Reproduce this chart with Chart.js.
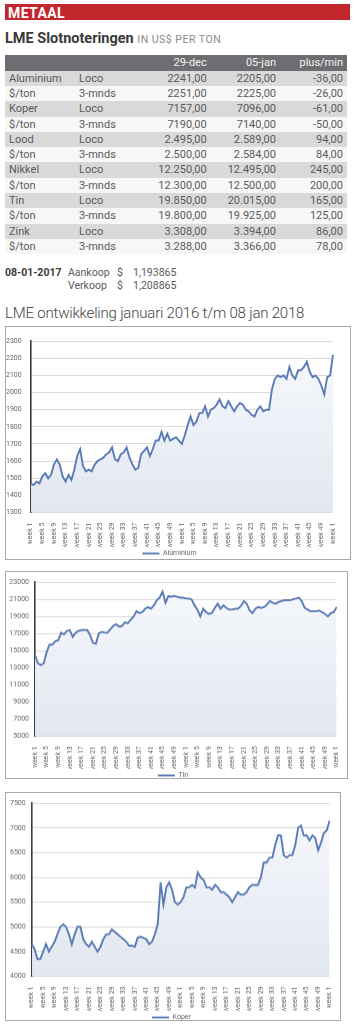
<!DOCTYPE html>
<html><head><meta charset="utf-8">
<script src="https://cdn.jsdelivr.net/npm/chart.js@4.4.0/dist/chart.umd.min.js"></script>
<style>
html,body{margin:0;padding:0;background:#fff;}
body{width:354px;height:1024px;position:relative;overflow:hidden;font-family:Roboto,"Noto Sans",sans-serif;color:#5a5a5a;}
.abs{position:absolute;white-space:nowrap;}
#bar{left:5px;top:3.5px;width:345px;height:16px;background:#c1272d;}
#bar span{position:absolute;left:3px;top:2px;font-size:14px;line-height:14px;font-weight:700;color:#fff;letter-spacing:0.4px;}
#tbl{left:5px;top:55.4px;width:342px;}
.row{position:relative;height:15.3px;line-height:15.3px;font-size:11px;}
.row div{position:absolute;top:0;}
.hdr{background:#6d6e71;color:#f2f2f2;}
.sh{background:#d9d9da;}
.wh{background:#f7f7f7;}
.box{position:absolute;border:1.5px solid #a9a9a9;background:#fff;box-sizing:border-box;}
canvas{position:absolute;}
</style></head>
<body>
<div id="bar" class="abs"><span>METAAL</span></div>
<div class="abs" style="left:5px;top:32.1px;font-size:14.5px;line-height:14.5px;font-weight:700;color:#3a3a3a;">LME Slotnoteringen <span style="font-size:10.5px;font-weight:400;color:#8a8a8a;letter-spacing:0.5px;">IN US$ PER TON</span></div>
<div id="tbl" class="abs"></div>
<div class="abs" style="left:5px;top:267.9px;font-size:10.5px;line-height:10.5px;"><b style="color:#3a3a3a;">08-01-2017</b></div>
<div class="abs" style="left:68px;top:267.9px;font-size:10.5px;line-height:10.5px;">Aankoop</div>
<div class="abs" style="left:117px;top:267.9px;font-size:10.5px;line-height:10.5px;">$</div>
<div class="abs" style="left:133px;top:267.9px;font-size:10.5px;line-height:10.5px;">1,193865</div>
<div class="abs" style="left:68px;top:281.2px;font-size:10.5px;line-height:10.5px;">Verkoop</div>
<div class="abs" style="left:117px;top:281.2px;font-size:10.5px;line-height:10.5px;">$</div>
<div class="abs" style="left:133px;top:281.2px;font-size:10.5px;line-height:10.5px;">1,208865</div>
<div class="abs" style="left:5px;top:305.7px;font-size:15px;line-height:15px;font-weight:300;color:#444;letter-spacing:-0.2px;">LME ontwikkeling januari 2016 t/m 08 jan 2018</div>

<div class="box" style="left:5px;top:326px;width:346px;height:234px;"></div>
<div class="box" style="left:5px;top:571px;width:343px;height:208px;"></div>
<div class="box" style="left:5px;top:791.5px;width:336px;height:229px;"></div>
<canvas id="c1"></canvas>
<canvas id="c2"></canvas>
<canvas id="c3"></canvas>

<script>
// ---- table data ----
const tblHeader = ["", "", "29-dec", "05-jan", "plus/min"];
const tblNames = ["Aluminium","$/ton","Koper","$/ton","Lood","$/ton","Nikkel","$/ton","Tin","$/ton","Zink","$/ton"];
const tblTypes = ["Loco","3-mnds","Loco","3-mnds","Loco","3-mnds","Loco","3-mnds","Loco","3-mnds","Loco","3-mnds"];
const tbl29dec = ["2241,00","2251,00","7157,00","7190,00","2.495,00","2.500,00","12.250,00","12.300,00","19.850,00","19.800,00","3.308,00","3.288,00"];
const tbl05jan = ["2205,00","2225,00","7096,00","7140,00","2.589,00","2.584,00","12.495,00","12.500,00","20.015,00","19.925,00","3.394,00","3.366,00"];
const tblPlusMin = ["-36,00","-26,00","-61,00","-50,00","94,00","84,00","245,00","200,00","165,00","125,00","86,00","78,00"];

// ---- chart data (weekly, week 1 2016 .. week 1 2018) ----
const categories = [];
for (let w = 1; w <= 52; w++) categories.push("week " + w);
for (let w = 1; w <= 52; w++) categories.push("week " + w);
categories.push("week 1");

const aluminium = [1470,1460,1480,1470,1510,1530,1500,1520,1580,1610,
 1580,1510,1480,1520,1490,1550,1630,1670,1570,1540,
 1550,1540,1580,1600,1610,1620,1640,1650,1680,1610,
 1600,1640,1650,1680,1620,1580,1550,1560,1640,1660,
 1680,1630,1670,1720,1720,1770,1720,1760,1720,1730,
 1740,1720,1700,1750,1810,1860,1810,1830,1880,1880,
 1920,1860,1900,1910,1930,1960,1920,1910,1950,1920,
 1890,1920,1940,1930,1900,1890,1870,1860,1900,1920,
 1890,1900,1900,2020,2080,2100,2090,2100,2080,2150,
 2100,2080,2130,2130,2150,2180,2120,2090,2100,2080,
 2040,1990,2090,2100,2220];
const tin = [14500,13500,13300,13500,14800,15700,15700,16100,16200,17100,
 16900,17300,17400,16600,17100,17300,17400,17400,17400,16800,
 15900,15800,17000,17200,17100,17100,17500,17900,18100,17800,
 17900,18300,18200,18600,19000,19600,19400,19500,19900,20100,
 19900,20300,20900,21200,21900,20600,21400,21300,21400,21300,
 21200,21200,21100,21100,21000,20300,19800,19000,19900,19500,
 19300,19400,20000,20500,19900,20300,20000,19800,19800,19900,
 19900,20200,20800,20500,19700,19400,19900,20100,20000,20100,
 20400,20800,20600,20500,20700,20800,20900,20900,20900,21000,
 21100,21200,20800,20000,19800,19600,19600,19600,19700,19500,
 19300,19000,19400,19500,20100];
const koper = [4650,4550,4350,4350,4500,4650,4500,4600,4700,4850,
 5000,5050,5000,4850,4650,4850,5000,5000,4750,4650,
 4600,4700,4600,4500,4600,4750,4850,4850,4950,4900,
 4850,4800,4750,4700,4620,4620,4600,4780,4800,4780,
 4750,4650,4700,4850,5050,5900,5450,5800,5900,5750,
 5500,5450,5500,5600,5800,5800,5850,5800,6100,6000,
 5950,5800,5800,5750,5850,5800,5700,5700,5650,5600,
 5500,5600,5700,5650,5650,5700,5800,5850,5850,5850,
 6000,6300,6300,6400,6400,6650,6850,6850,6450,6400,
 6450,6450,6650,7000,7050,6850,6850,6750,6850,6800,
 6550,6700,6900,6950,7150];

const alTicks = {min:1300, max:2300, step:100};
const tinTicks = {min:5000, max:23000, step:2000};
const koTicks = {min:4000, max:7500, step:500};

// ---- build table ----
const tbl = document.getElementById('tbl');
const colRight = [null, null, 201.7, 271, 338];
function addRow(cells, cls){
  const r = document.createElement('div'); r.className = 'row ' + cls;
  cells.forEach((t,i)=>{
    const d = document.createElement('div'); d.textContent = t;
    if (i===0) d.style.left='4px';
    else if (i===1) d.style.left='74px';
    else { d.style.right = (342 - colRight[i]) + 'px'; }
    r.appendChild(d);
  });
  tbl.appendChild(r);
}
addRow(tblHeader, 'hdr');
tblNames.forEach((n,i)=>addRow([n, tblTypes[i], tbl29dec[i], tbl05jan[i], tblPlusMin[i]], i%2===0?'sh':'wh'));

// ---- charts ----
function makeChart(id, data, name, t, L){
  const cv = document.getElementById(id);
  cv.style.left = L.left + 'px'; cv.style.top = L.top + 'px';
  cv.width = L.w; cv.height = L.h;
  cv.style.width = L.w + 'px'; cv.style.height = L.h + 'px';
  return new Chart(cv, {
    type: 'line',
    data: { labels: categories, datasets: [{
      label: name, data: data,
      borderColor: '#5b7bb6', borderWidth: 1.9, pointRadius: 0, tension: 0,
      fill: 'start',
      backgroundColor: (c) => {
        const ch = c.chart, a = ch.chartArea;
        if (!a) return 'rgba(225,231,241,0.7)';
        const g = ch.ctx.createLinearGradient(0, a.top, 0, a.bottom);
        g.addColorStop(0, 'rgba(246,248,252,0.9)');
        g.addColorStop(1, 'rgba(224,230,240,0.95)');
        return g;
      }
    }]},
    options: {
      responsive: false, animation: false, devicePixelRatio: 1,
      layout: { padding: { left: 0, right: L.pr, top: L.pt, bottom: 0 } },
      plugins: {
        tooltip: { enabled: false },
        legend: { position: 'bottom', labels: {
          usePointStyle: true, pointStyle: 'line', pointStyleWidth: 17,
          font: { size: 7, family: 'Roboto' }, color: '#666', padding: 3 } }
      },
      scales: {
        x: {
          grid: { display: false }, border: { display: false },
          ticks: { autoSkip: false, maxRotation: 90, minRotation: 90, padding: 2,
            font: { size: 7, family: 'Roboto' }, color: '#666',
            callback: (v, i) => (i % 4 === 0 ? categories[i] : null) },
          afterFit: (s) => { s.height = L.xh; }
        },
        y: {
          min: t.min, max: t.max,
          ticks: { stepSize: t.step, font: { size: 7, family: 'Roboto' }, color: '#666', padding: L.yp,
            callback: (v) => String(v) },
          grid: { color: '#dadada', lineWidth: 1, drawTicks: false },
          border: { display: true, color: '#3f3f3f', width: 1.6 },
          afterFit: (s) => { s.width = L.yw; }
        }
      }
    }
  });
}

makeChart('c1', aluminium, 'Aluminium', alTicks, {left:6, top:327.5, w:344, h:239, pr:17, pt:7.5, xh:34.5, yw:24.7, yp:9});
makeChart('c2', tin, 'Tin', tinTicks, {left:6, top:572, w:341, h:216.5, pr:7, pt:8, xh:32.8, yw:29, yp:6});
makeChart('c3', koper, 'Koper', koTicks, {left:6, top:793, w:334, h:237.5, pr:3, pt:10, xh:34.5, yw:25.7, yp:6});
</script>
</body></html>
